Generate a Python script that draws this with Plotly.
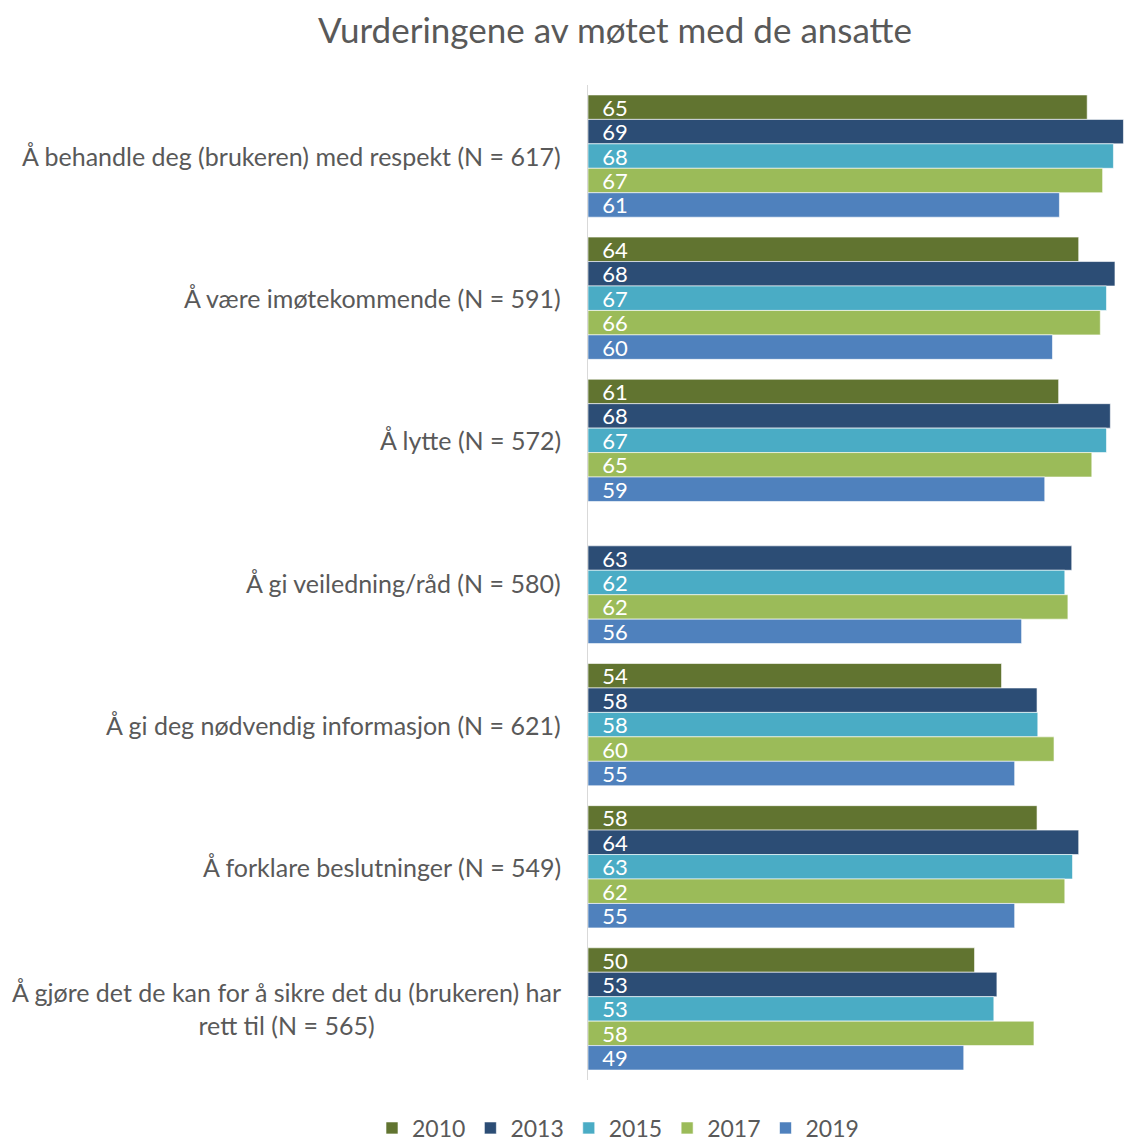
import plotly.graph_objects as go

categories = [
    "Å behandle deg (brukeren) med respekt (N = 617)",
    "Å være imøtekommende (N = 591)",
    "Å lytte (N = 572)",
    "Å gi veiledning/råd (N = 580)",
    "Å gi deg nødvendig informasjon (N = 621)",
    "Å forklare beslutninger (N = 549)",
    "Å gjøre det de kan for å sikre det du (brukeren) har<br>rett til (N = 565)",
]
years = ["2010", "2013", "2015", "2017", "2019"]
v2010 = [64.7, 63.6, 61.0, None, 53.6, 58.2, 50.1]
v2013 = [69.4, 68.3, 67.7, 62.7, 58.2, 63.6, 53.0]
v2015 = [68.1, 67.2, 67.2, 61.8, 58.3, 62.8, 52.6]
v2017 = [66.7, 66.4, 65.3, 62.2, 60.4, 61.8, 57.8]
v2019 = [61.1, 60.2, 59.2, 56.2, 55.3, 55.3, 48.7]
series = [v2010, v2013, v2015, v2017, v2019]
colors = ["#617430", "#2c4d75", "#4aacc5", "#9bbb59", "#4f81bd"]

FONT = "Lato"
GREY = "#595959"

fig = go.Figure()
for yr, vals, col in zip(years, series, colors):
    fig.add_trace(go.Bar(
        y=categories, x=vals, name=yr, orientation="h",
        marker=dict(color=col, line=dict(color="rgba(255,255,255,0.6)", width=1)),
        texttemplate="\u00a0\u00a0%{x:.0f}",
        textposition="inside", insidetextanchor="start",
        constraintext="none",
        textfont=dict(color="white", size=22, family=FONT),
        hoverinfo="skip",
    ))

annotations = []
for c in categories:
    annotations.append(dict(
        xref="paper", yref="y", x=0, y=c, xanchor="right", yanchor="middle",
        xshift=-25, text=c, showarrow=False, align="center",
        font=dict(size=25, color=GREY, family=FONT),
    ))

fig.update_layout(
    width=1125, height=1143,
    paper_bgcolor="white", plot_bgcolor="white",
    barmode="group", bargap=0.14, bargroupgap=0,
    margin=dict(l=588, r=0, t=85, b=63),
    title=dict(text="Vurderingene av møtet med de ansatte", x=615/1125, xanchor="center",
               xref="container", y=1 - 31/1143, yanchor="middle", yref="container",
               font=dict(size=35, color=GREY, family=FONT)),
    xaxis=dict(range=[0, 69.6], visible=False, showgrid=False, zeroline=False),
    yaxis=dict(autorange="reversed", showticklabels=False, ticks="", showgrid=False,
               showline=True, linecolor="#d9d9d9", linewidth=1, zeroline=False),
    legend=dict(orientation="h", xref="container", yref="container",
                x=618/1125, xanchor="center", y=15/1143, yanchor="middle",
                font=dict(size=23, color=GREY, family=FONT), traceorder="normal"),
    annotations=annotations,
    showlegend=True,
)

fig.write_html("out.html", config={"displayModeBar": False},
               post_script="document.body.style.margin='0';document.body.style.overflow='hidden';")
